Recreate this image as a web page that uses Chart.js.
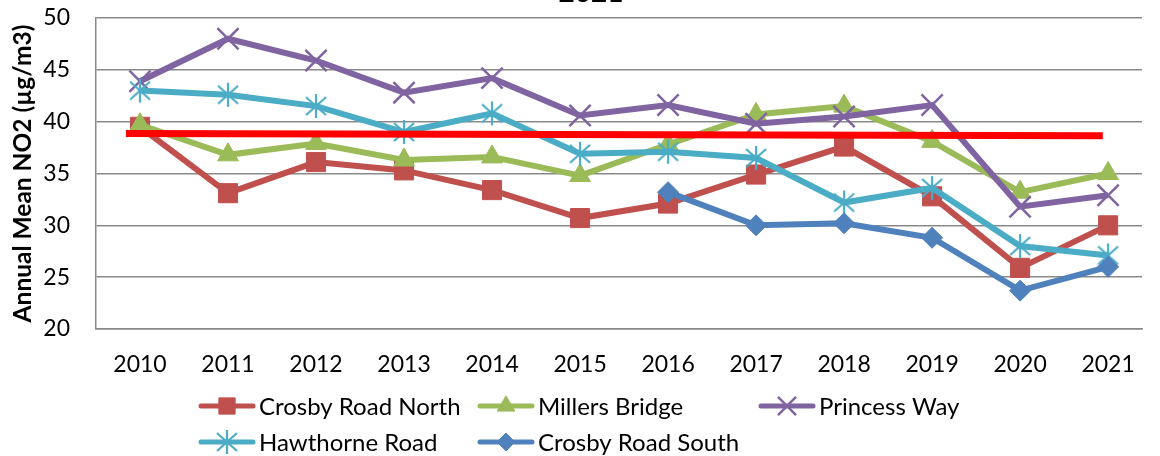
<!DOCTYPE html>
<html><head><meta charset="utf-8">
<script src="https://cdn.jsdelivr.net/npm/chart.js@4.4.1/dist/chart.umd.min.js"></script>
<style>html,body{margin:0;padding:0;background:#fff;overflow:hidden}#wrap{width:1160px;height:456px;position:relative}</style>
</head><body><div id="wrap"><canvas id="c" width="1160" height="456"></canvas></div>
<script>
// ---- data ----
const years = [2010, 2011, 2012, 2013, 2014, 2015, 2016, 2017, 2018, 2019, 2020, 2021];
const crosbyRoadNorth = [39.5, 33.1, 36.1, 35.3, 33.4, 30.7, 32.1, 34.9, 37.6, 32.8, 25.9, 30.0];
const millersBridge   = [39.7, 36.8, 37.9, 36.3, 36.6, 34.8, 37.8, 40.7, 41.5, 38.1, 33.2, 35.0];
const princessWay     = [43.9, 48.0, 45.9, 42.8, 44.2, 40.6, 41.6, 39.8, 40.5, 41.6, 31.8, 32.9];
const hawthorneRoad   = [43.0, 42.6, 41.5, 39.0, 40.8, 36.9, 37.1, 36.5, 32.2, 33.6, 28.0, 27.1];
const crosbyRoadSouth = [null, null, null, null, null, null, 33.2, 30.0, 30.2, 28.8, 23.7, 26.0];
const objectiveX = [2009.84, 2020.94];
const objectiveY = [38.85, 38.65];
const yTicks = [20, 25, 30, 35, 40, 45, 50];
const seriesNames = ['Crosby Road North', 'Millers Bridge', 'Princess Way', 'Hawthorne Road', 'Crosby Road South'];
const titleText = '2021';
const yAxisTitle = 'Annual Mean NO2 (µg/m3)';

// ---- helpers ----
function toXY(vals){ return years.map((yr,i)=>({x:yr, y:vals[i]})); }
function asterisk(color){
  const c = document.createElement('canvas'); c.width = 24; c.height = 26;
  const g = c.getContext('2d'); g.strokeStyle = color; g.lineWidth = 2.2; g.lineCap='butt';
  g.beginPath(); g.moveTo(12,1); g.lineTo(12,25);
  g.moveTo(2,4); g.lineTo(22,22); g.moveTo(22,4); g.lineTo(2,22); g.stroke();
  return c;
}
const COLORS = {red:'#C0504D', green:'#9BBB59', purple:'#8064A2', cyan:'#4BACC6', blue:'#4F81BD'};
const star = asterisk(COLORS.cyan);

function build(){
  Chart.defaults.font.family = 'Lato, "Liberation Sans", sans-serif';
  Chart.defaults.color = '#000';
  const lineW = 6;
  const datasets = [
    {label:'objective', data: objectiveX.map((x,i)=>({x, y:objectiveY[i]})), borderColor:'#FF0000', borderWidth:7, pointRadius:0, order:0},
    {label:seriesNames[4], data:toXY(crosbyRoadSouth), borderColor:COLORS.blue, backgroundColor:COLORS.blue, borderWidth:lineW, pointStyle:'rectRot', pointRadius:10.5, pointBorderWidth:1, order:1},
    {label:seriesNames[3], data:toXY(hawthorneRoad), borderColor:COLORS.cyan, backgroundColor:COLORS.cyan, borderWidth:lineW, pointStyle:star, pointRadius:12, order:2},
    {label:seriesNames[2], data:toXY(princessWay), borderColor:COLORS.purple, backgroundColor:COLORS.purple, borderWidth:lineW, pointStyle:'crossRot', pointRadius:15, pointBorderWidth:2.5, order:3},
    {label:seriesNames[1], data:toXY(millersBridge), borderColor:COLORS.green, backgroundColor:COLORS.green, borderWidth:lineW, pointStyle:'triangle', pointRadius:12, pointBorderWidth:1, order:4},
    {label:seriesNames[0], data:toXY(crosbyRoadNorth), borderColor:COLORS.red, backgroundColor:COLORS.red, borderWidth:lineW, pointStyle:'rect', pointRadius:13.5, pointBorderWidth:1, order:5},
  ];

  const legendLayout = [
    {name:seriesNames[0], col:0, row:0}, {name:seriesNames[1], col:1, row:0}, {name:seriesNames[2], col:2, row:0},
    {name:seriesNames[3], col:0, row:1}, {name:seriesNames[4], col:1, row:1}
  ];
  const colX = [199, 478, 759], rowY = [406, 442];

  const decor = {
    id:'decor',
    afterDraw(chart){
      const ctx = chart.ctx;
      ctx.save();
      // cropped title
      ctx.fillStyle = '#000'; ctx.font = 'bold 28px Lato, sans-serif';
      ctx.textAlign = 'center'; ctx.textBaseline = 'alphabetic';
      ctx.fillText(titleText, 591, 2);
      // legend
      ctx.font = '24px Lato, sans-serif'; ctx.textAlign = 'left'; ctx.textBaseline = 'middle';
      legendLayout.forEach(item=>{
        const ds = chart.data.datasets.find(d=>d.label===item.name);
        const x0 = colX[item.col], y = rowY[item.row], len = 56;
        ctx.strokeStyle = ds.borderColor; ctx.fillStyle = ds.backgroundColor;
        ctx.lineWidth = 5; ctx.lineCap = 'round';
        ctx.beginPath(); ctx.moveTo(x0+2, y); ctx.lineTo(x0+len-2, y); ctx.stroke();
        ctx.lineCap = 'butt';
        ctx.lineWidth = ds.pointBorderWidth || 1;
        if (Chart.helpers && Chart.helpers.drawPoint) {
          Chart.helpers.drawPoint(ctx, {pointStyle: ds.pointStyle, radius: ds.pointRadius*0.85, rotation:0, borderWidth: ds.pointBorderWidth||1}, x0+len/2, y);
        }
        ctx.fillStyle = '#000';
        ctx.fillText(item.name, x0+len+4, y+1);
      });
      ctx.restore();
    }
  };

  new Chart(document.getElementById('c'), {
    type:'line',
    data:{datasets},
    options:{
      responsive:false, animation:false, devicePixelRatio:1, events:[],
      layout:{padding:{top:17, left:0, right:0, bottom:0}},
      plugins:{legend:{display:false}, tooltip:{enabled:false}, title:{display:false}},
      elements:{line:{tension:0}},
      scales:{
        x:{type:'linear', min:2009.5, max:2021.385,
           afterBuildTicks(s){ s.ticks = years.map(v=>({value:v})); },
           afterFit(s){ s.height = 127; s.paddingLeft = 0; s.paddingRight = 0; },
           grid:{display:false, drawTicks:false},
           border:{display:true, color:'#898989', width:1.5},
           ticks:{font:{size:23}, color:'#000', padding:22, maxRotation:0, autoSkip:false, callback:(v)=>String(v)}},
        y:{min:20, max:50,
           afterBuildTicks(s){ s.ticks = yTicks.map(v=>({value:v})); },
           afterFit(s){ s.width = 96; s.paddingTop = 0; s.paddingBottom = 0; },
           grid:{color:'#898989', lineWidth:1.5, drawTicks:false},
           border:{display:true, color:'#898989', width:1.5},
           ticks:{font:{size:23}, color:'#000', padding:26},
           title:{display:true, text:yAxisTitle, font:{size:24.5, weight:'bold'}, color:'#000', padding:{top:8, bottom:0}}}
      }
    },
    plugins:[decor]
  });
}
let done = false;
function go(){ if(done) return; done = true; build(); }
if (document.fonts && document.fonts.load) {
  Promise.all([document.fonts.load('23px Lato'), document.fonts.load('bold 23px Lato')]).then(go, go);
  setTimeout(go, 1500);
} else go();
</script>
</body></html>
